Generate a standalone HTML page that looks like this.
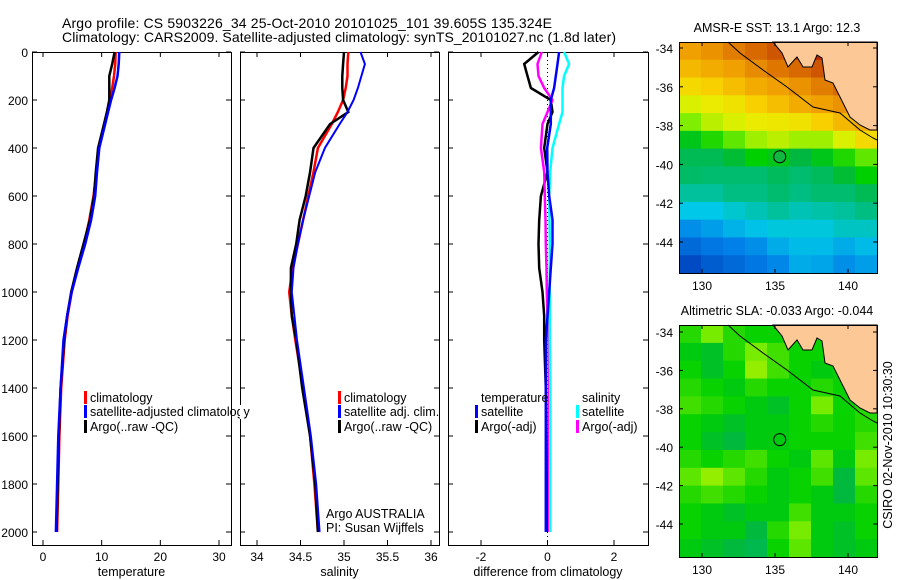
<!DOCTYPE html>
<html><head><meta charset="utf-8"><style>
html,body{margin:0;padding:0;background:#fff;}
svg{display:block;font-family:"Liberation Sans",sans-serif;}
</style></head><body>
<svg id="c" width="900" height="580" viewBox="0 0 900 580">
<text x="62" y="28" font-size="14" textLength="490">Argo profile: CS 5903226_34 25-Oct-2010 20101025_101 39.605S 135.324E</text>
<text x="62" y="42" font-size="14" textLength="554">Climatology: CARS2009. Satellite-adjusted climatology: synTS_20101027.nc (1.8d later)</text>
<g id="g"></g>
</svg>
<script>
const depths=[0,50,100,150,200,250,300,400,500,600,700,800,900,1000,1100,1200,1400,1600,1800,2000];
const tempClim=[12.4,12.3,12.1,11.8,11.5,11.0,10.5,9.5,9.1,8.6,7.9,7.0,5.9,4.9,4.2,3.7,3.1,2.8,2.6,2.4];
const tempSat=[13.0,12.9,12.7,12.2,11.6,11.1,10.6,9.6,9.2,8.9,8.2,7.2,6.0,4.9,4.1,3.5,3.0,2.6,2.4,2.2];
const tempArgo=[12.2,11.8,11.3,11.3,11.3,10.9,10.4,9.4,9.0,8.7,8.0,6.9,5.8,4.8,4.1,3.6,3.0,2.7,2.5,2.3];
const salClim=[35.05,35.04,35.04,35.02,34.99,34.93,34.86,34.70,34.65,34.59,34.53,34.47,34.41,34.37,34.40,34.44,34.53,34.61,34.66,34.70];
const salSat=[35.19,35.24,35.2,35.16,35.11,35.04,34.95,34.78,34.67,34.6,34.53,34.47,34.42,34.40,34.43,34.46,34.54,34.62,34.68,34.72];
const salArgo=[35.0,34.99,34.98,34.98,34.99,35.05,34.84,34.65,34.61,34.56,34.49,34.45,34.39,34.39,34.40,34.45,34.52,34.61,34.67,34.70];
const dTempSat=[0.35,0.3,0.25,0.2,0.1,0.1,0.1,-0.01,0,0.05,0.15,0.15,0.1,0.05,0,-0.05,-0.05,-0.05,-0.05,-0.05];
const dTempArgo=[-0.27,-0.7,-0.6,-0.5,0.1,0.15,0,-0.1,0,-0.2,-0.25,-0.27,-0.25,-0.15,-0.1,-0.1,-0.05,-0.03,-0.02,0];
const dSalSat=[0.5,0.65,0.5,0.45,0.45,0.45,0.35,0.15,0.08,0.05,0.06,0.07,0.07,0.07,0.07,0.07,0.08,0.08,0.08,0.08];
const dSalArgo=[-0.17,-0.3,-0.27,-0.1,0.15,0,-0.15,-0.2,-0.1,-0.08,-0.06,-0.05,-0.03,-0.02,0,0.03,0.04,0.05,0.05,0.05];
const depthTicks=[0,200,400,600,800,1000,1200,1400,1600,1800,2000];
const tempTicks=[0,10,20,30];
const salTicks=[34,34.5,35,35.5,36];
const diffTicks=[-2,0,2];
const sstGrid=[
[.80,.82,.85,.88,.90,.93,.95,.95,.95],
[.76,.78,.80,.83,.86,.88,.90,.93,.93],
[.70,.72,.75,.78,.80,.82,.85,.88,.90],
[.64,.66,.68,.72,.75,.78,.80,.82,.82],
[.58,.62,.64,.66,.67,.68,.72,.76,.78],
[.48,.52,.56,.60,.62,.60,.60,.64,.70],
[.43,.43,.46,.50,.48,.45,.48,.52,.56],
[.41,.40,.40,.40,.42,.40,.42,.46,.50],
[.36,.36,.38,.38,.40,.38,.40,.40,.43],
[.30,.30,.32,.34,.36,.34,.35,.36,.38],
[.22,.24,.27,.29,.31,.31,.31,.33,.33],
[.15,.18,.20,.22,.26,.28,.28,.26,.28],
[.08,.12,.15,.18,.21,.26,.25,.22,.24]];
const slaGrid=[
[.55,.70,.55,.50,.50,.55,.50,.50,.50],
[.45,.40,.55,.70,.60,.50,.50,.50,.55],
[.50,.40,.50,.75,.60,.50,.45,.50,.50],
[.55,.50,.45,.55,.50,.50,.55,.50,.50],
[.60,.55,.50,.45,.40,.50,.70,.50,.55],
[.50,.45,.40,.45,.45,.50,.55,.50,.55],
[.50,.40,.35,.45,.45,.50,.50,.50,.60],
[.55,.50,.55,.60,.50,.45,.65,.45,.70],
[.65,.75,.65,.55,.45,.50,.60,.35,.65],
[.55,.60,.55,.50,.45,.50,.45,.35,.55],
[.50,.45,.40,.45,.45,.60,.45,.45,.50],
[.50,.45,.45,.35,.55,.70,.45,.40,.50],
[.45,.40,.35,.30,.50,.65,.45,.40,.45]];
const latTicks=[-34,-36,-38,-40,-42,-44];
const lonTicks=[130,135,140];
const argoLon=135.324, argoLat=-39.605;

const NS="http://www.w3.org/2000/svg";
const G=document.getElementById('g');
function mk(t,a,p){const e=document.createElementNS(NS,t);for(const k in a)e.setAttribute(k,a[k]);(p||G).appendChild(e);return e;}
const Y0=52,Y1=545;
function yD(d){return 52+d*0.24;}
function lin(d0,r0,d1,r1){return v=>r0+(v-d0)*(r1-r0)/(d1-d0);}
const panels=[
 {x0:32,x1:231,sx:lin(0,43,30,219),ticks:tempTicks,label:'temperature',name:'temperature-panel'},
 {x0:240,x1:439,sx:lin(34,257,36,431),ticks:salTicks,label:'salinity',name:'salinity-panel'},
 {x0:448,x1:648,sx:lin(-2,481,2,614),ticks:diffTicks,label:'difference from climatology',name:'difference-panel'}];
function series(p,vals,col,w,name){
  const pts=depths.map((d,i)=>p.sx(vals[i]).toFixed(1)+','+yD(d).toFixed(1)).join(' ');
  const e=mk('polyline',{points:pts,fill:'none',stroke:col,'stroke-width':w});
  
  
}
panels.forEach((p,pi)=>{
  const g=mk('g',{});
  
  
  mk('rect',{x:p.x0+.5,y:Y0+.5,width:p.x1-p.x0,height:Y1-Y0,fill:'none',stroke:'#000','stroke-width':1},g);
  p.ticks.forEach(t=>{const x=p.sx(t);
    mk('line',{x1:x,y1:Y1,x2:x,y2:Y1-5,stroke:'#000'},g);
    mk('line',{x1:x,y1:Y0,x2:x,y2:Y0+5,stroke:'#000'},g);
    const tx=mk('text',{x:x,y:Y1+16,'font-size':12,'text-anchor':'middle'},g);tx.textContent=t;
    
    });
  depthTicks.forEach(d=>{const y=yD(d);
    mk('line',{x1:p.x0,y1:y,x2:p.x0+5,y2:y,stroke:'#000'},g);
    mk('line',{x1:p.x1,y1:y,x2:p.x1-5,y2:y,stroke:'#000'},g);
    if(pi==0){const tx=mk('text',{x:28,y:y+5,'font-size':12,'text-anchor':'end'},g);tx.textContent=d;
      
      }});
  const lb=mk('text',{x:(p.x0+p.x1)/2,y:576,'font-size':12.5,'text-anchor':'middle'},g);lb.textContent=p.label;
  
  
});
const P=panels;
mk('line',{x1:P[2].sx(0),y1:Y0,x2:P[2].sx(0),y2:Y1,stroke:'#000','stroke-dasharray':'1,3'});
series(P[0],tempClim,'#f00',2.5,'temp-climatology-line');
series(P[0],tempArgo,'#000',2.5,'temp-argo-line');
series(P[0],tempSat,'#00f',2.5,'temp-satellite-line');
series(P[1],salClim,'#f00',2.5,'sal-climatology-line');
series(P[1],salArgo,'#000',2.5,'sal-argo-line');
series(P[1],salSat,'#00f',2,'sal-satellite-line');
series(P[2],dTempArgo,'#000',2.5,'diff-temp-argo-line');
series(P[2],dSalArgo,'#f0f',2.5,'diff-sal-argo-line');
series(P[2],dSalSat,'#0ff',2.5,'diff-sal-satellite-line');
series(P[2],dTempSat,'#00f',2.5,'diff-temp-satellite-line');

function legend(x,y,col,txt,name){
  const g=mk('g',{});
  
  
  if(col)mk('rect',{x:x-6,y:y-10,width:3,height:13,fill:col},g);
  const t=mk('text',{x:x,y:y+1,'font-size':12.5},g);t.textContent=txt;
}
legend(90,401,'#f00','climatology','legend-climatology');
legend(90,415,'#00f','satellite-adjusted climatology','legend-satellite-adjusted');
legend(90,430,'#000','Argo(..raw -QC)','legend-argo');
legend(344,401,'#f00','climatology','legend-sal-climatology');
legend(344,415,'#00f','satellite adj. clim.','legend-sal-satellite');
legend(344,430,'#000','Argo(..raw -QC)','legend-sal-argo');
legend(326,517,null,'Argo AUSTRALIA','credit-argo-australia');
legend(326,531,null,'PI: Susan Wijffels','credit-pi');
legend(481,401,null,'temperature','legend-temperature-heading');
legend(481,415,'#00f','satellite','legend-temp-satellite');
legend(481,430,'#000','Argo(-adj)','legend-temp-argo');
legend(582,401,null,'salinity','legend-salinity-heading');
legend(582,415,'#0ff','satellite','legend-sal-satellite-diff');
legend(582,430,'#f0f','Argo(-adj)','legend-sal-argo-diff');
mk('rect',{x:240,y:405,width:3,height:14,fill:'#fff'});

const jet=[[0,[0,40,170]],[.2,[0,128,232]],[.3,[0,200,232]],[.38,[0,190,130]],[.45,[0,184,64]],[.5,[0,208,0]],[.58,[128,238,0]],[.65,[232,240,0]],[.72,[248,208,0]],[.8,[240,160,0]],[.88,[216,104,0]],[.95,[184,40,0]],[1,[144,0,0]]];
function cmap(v){for(let i=1;i<jet.length;i++){if(v<=jet[i][0]){const a=jet[i-1],b=jet[i],f=(v-a[0])/(b[0]-a[0]);return 'rgb('+a[1].map((c,k)=>Math.round(c+(b[1][k]-c)*f)).join(',')+')';}}return 'rgb(144,0,0)';}
const MX0=679,MX1=877,MW=MX1-MX0;
const mlon=lin(130,702,140,848);
const land="773,42 877,42 877,130 870,130 860,125 850,117 843,103 833,83 825,80 822,58 817,55 812,67 803,67 797,57 788,67 782,53";
const coast="728,42 740,53 763,70 787,87 813,107 840,113 860,130 873,138 877,140";
function map(top,bot,lat34,lat44,grid,scale,title,name,markFill){
  const g=mk('g',{});
  
  
  const mlat=lin(-34,lat34,-44,lat44);
  const rows=grid.length,cols=grid[0].length,ch=(bot-top)/rows,cw=MW/cols;
  grid.forEach((r,i)=>r.forEach((v,j)=>{
    const c=mk('rect',{x:MX0+j*cw,y:top+i*ch,width:cw+.5,height:ch+.5,fill:cmap(scale(v))},g);
    
    }));
  const off=top-42;
  mk('polygon',{points:land,fill:'#fbc896',stroke:'#000','stroke-width':1,transform:'translate(0,'+off+')'},g);
  mk('polyline',{points:coast,fill:'none',stroke:'#000','stroke-width':1,transform:'translate(0,'+off+')'},g);
  mk('rect',{x:MX0+.5,y:top+.5,width:MW,height:bot-top,fill:'none',stroke:'#000'},g);
  latTicks.forEach(t=>{const y=mlat(t);
    mk('line',{x1:MX0,y1:y,x2:MX0+4,y2:y,stroke:'#000'},g);mk('line',{x1:MX1,y1:y,x2:MX1-4,y2:y,stroke:'#000'},g);
    const tx=mk('text',{x:673,y:y+5,'font-size':12,'text-anchor':'end'},g);tx.textContent=t;
    
    });
  lonTicks.forEach(t=>{const x=mlon(t);
    mk('line',{x1:x,y1:top,x2:x,y2:top+4,stroke:'#000'},g);mk('line',{x1:x,y1:bot,x2:x,y2:bot-4,stroke:'#000'},g);
    const tx=mk('text',{x:x,y:bot+17,'font-size':12,'text-anchor':'middle'},g);tx.textContent=t;
    
    });
  const tt=mk('text',{x:777,y:top-10,'font-size':12.5,'text-anchor':'middle'},g);tt.textContent=title;
  
  
  const m=mk('circle',{cx:mlon(argoLon),cy:mlat(argoLat),r:6,fill:markFill,stroke:'#000'},g);
  
  
}
map(42,273,48,242,sstGrid,v=>v,'AMSR-E SST: 13.1  Argo: 12.3','sst-map','#10b840');
map(325,557,332,524,slaGrid,v=>0.47+(v-0.4)*0.35,'Altimetric SLA: -0.033  Argo: -0.044','sla-map','none');
const cs=mk('text',{x:0,y:0,'font-size':12.5,'text-anchor':'middle',transform:'translate(892,445) rotate(-90)'});
cs.textContent='CSIRO 02-Nov-2010 10:30:30';


</script>
</body></html>
